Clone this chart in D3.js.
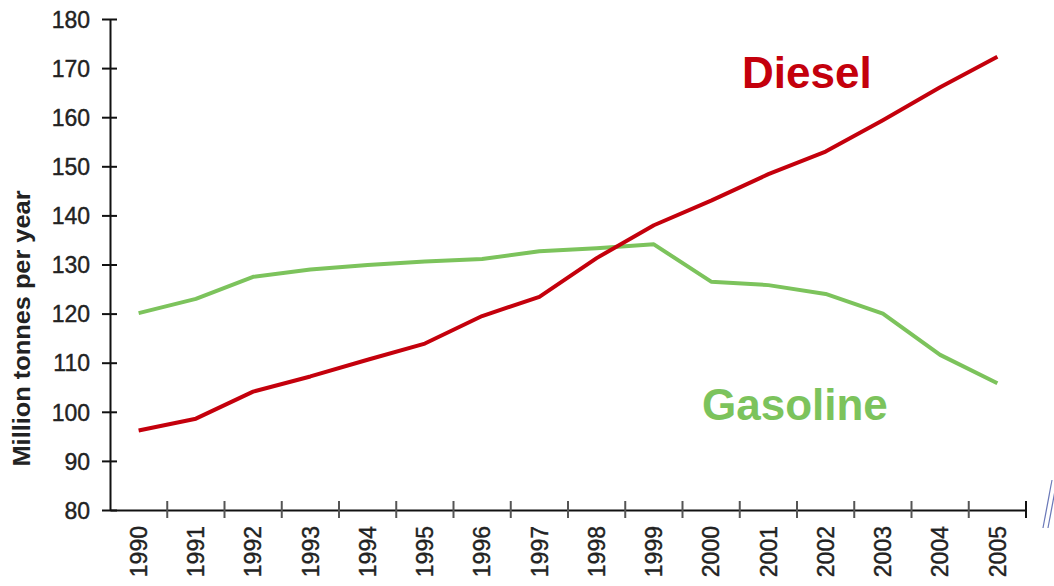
<!DOCTYPE html>
<html>
<head>
    <meta charset="utf-8">
    <title>Diesel vs Gasoline</title>
    <script src="https://d3js.org/d3.v7.min.js"></script>
    <style>
        body { margin: 0; background: #fff; }
        text { font-family: Arial, "Liberation Sans", sans-serif; }
    </style>
</head>
<body>
    <div id="chart"></div>
    <script>
        // data
        var years = ["1990", "1991", "1992", "1993", "1994", "1995", "1996", "1997",
                     "1998", "1999", "2000", "2001", "2002", "2003", "2004", "2005"];
        var diesel = [96.2, 98.6, 104.1, 107.2, 110.6, 113.9, 119.5, 123.4,
                      131.3, 138.0, 143.0, 148.4, 153.0, 159.4, 166.1, 172.3];
        var gasoline = [120.1, 123.0, 127.5, 129.0, 129.9, 130.6, 131.1, 132.7,
                        133.3, 134.1, 126.5, 125.8, 124.0, 120.0, 111.6, 105.8];
        var yTicks = [80, 90, 100, 110, 120, 130, 140, 150, 160, 170, 180];

        var W = 1054, H = 586;
        var plotLeft = 110, plotRight = 1026, plotTop = 19, plotBottom = 510;

        var svg = d3.select("#chart").append("svg")
            .attr("width", W)
            .attr("height", H);

        var x = d3.scaleBand().domain(years).range([plotLeft, plotRight]).padding(0);
        var y = d3.scaleLinear().domain([80, 180]).range([plotBottom, plotTop]);
        var cx = function(d, i) { return x(years[i]) + x.bandwidth() / 2; };

        // y axis
        var yAxis = svg.append("g")
            .attr("transform", "translate(" + plotLeft + ",0)")
            .call(d3.axisLeft(y).tickValues(yTicks).tickSize(0).tickPadding(20));
        yAxis.select(".domain").attr("stroke", "#111").attr("stroke-width", 2);
        yAxis.selectAll("text")
            .attr("font-size", 23)
            .attr("fill", "#222")
            .attr("stroke", "#222")
            .attr("stroke-width", 0.4)
            .attr("dy", "0.36em");
        yAxis.selectAll(".tick").append("line")
            .attr("x1", -8).attr("x2", 7)
            .attr("stroke", "#111").attr("stroke-width", 2);

        // x axis
        var xAxis = svg.append("g")
            .attr("transform", "translate(0," + plotBottom + ")")
            .call(d3.axisBottom(x).tickSize(0).tickPadding(0));
        xAxis.select(".domain").attr("stroke", "#111").attr("stroke-width", 2);
        xAxis.selectAll("text")
            .attr("font-size", 23)
            .attr("fill", "#222")
            .attr("stroke", "#222")
            .attr("stroke-width", 0.4)
            .attr("text-anchor", "end")
            .attr("transform", "translate(0,16) rotate(-90)")
            .attr("x", 0).attr("y", 0)
            .attr("dy", "0.36em");

        // tick marks on band boundaries
        svg.append("g").selectAll("line")
            .data(years)
            .join("line")
            .attr("x1", function(d) { return x(d) + x.bandwidth(); })
            .attr("x2", function(d) { return x(d) + x.bandwidth(); })
            .attr("y1", plotBottom - 9)
            .attr("y2", plotBottom + 8)
            .attr("stroke", function(d, i) { return i == years.length - 1 ? "#111" : "#555"; })
            .attr("stroke-width", 2);

        // y axis title
        svg.append("text")
            .attr("transform", "translate(30," + ((plotTop + plotBottom) / 2 + 64) + ") rotate(-90)")
            .attr("text-anchor", "middle")
            .attr("font-size", 23)
            .attr("font-weight", "bold")
            .attr("fill", "#222")
            .attr("textLength", 276)
            .attr("lengthAdjust", "spacingAndGlyphs")
            .text("Million tonnes per year");

        var line = d3.line()
            .x(cx)
            .y(function(d) { return y(d); });

        svg.append("path")
            .datum(gasoline)
            .attr("fill", "none")
            .attr("stroke", "#7cc35c")
            .attr("stroke-width", 4)
            .attr("stroke-linejoin", "round")
            .attr("d", line);

        svg.append("path")
            .datum(diesel)
            .attr("fill", "none")
            .attr("stroke", "#c4000c")
            .attr("stroke-width", 4)
            .attr("stroke-linejoin", "round")
            .attr("d", line);

        // series labels
        svg.append("text")
            .attr("x", 742).attr("y", 88)
            .attr("font-size", 44)
            .attr("font-weight", "bold")
            .attr("fill", "#c4000c")
            .text("Diesel");

        svg.append("text")
            .attr("x", 702).attr("y", 420)
            .attr("font-size", 44)
            .attr("font-weight", "bold")
            .attr("fill", "#7cc35c")
            .text("Gasoline");

        // small slash marks at the right edge
        svg.append("g").selectAll("line")
            .data([0, 5])
            .join("line")
            .attr("x1", function(d) { return 1043 + d; })
            .attr("y1", 528)
            .attr("x2", function(d) { return 1052 + d; })
            .attr("y2", 480)
            .attr("stroke", "#6a78b8")
            .attr("stroke-width", 1.2);
    </script>
</body>
</html>
